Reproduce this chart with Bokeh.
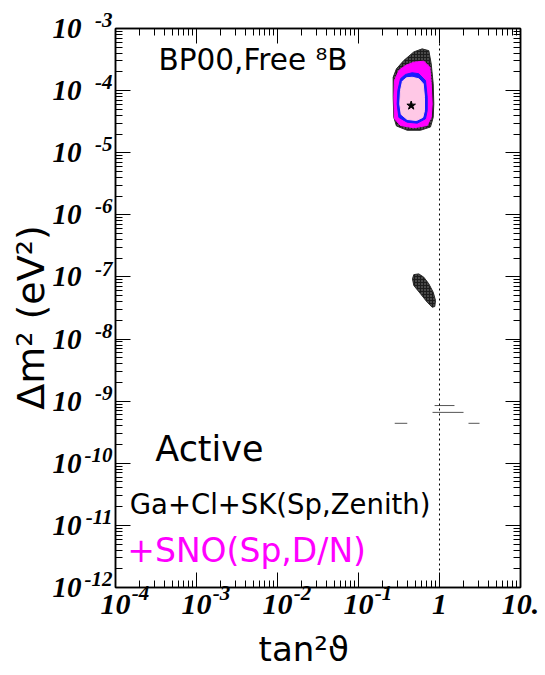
from bokeh.plotting import figure
from bokeh.models import LogAxis, FixedTicker, Span, Label, Range1d, LogScale
from bokeh.embed import file_html
from bokeh.resources import INLINE

# ---- axes / ticks ----
x_ticks = [1e-4, 1e-3, 1e-2, 1e-1, 1.0, 10.0]
x_tick_base = ["10", "10", "10", "10", "1", "10."]
x_tick_exp = ["-4", "-3", "-2", "-1"]
y_ticks = [1e-12, 1e-11, 1e-10, 1e-9, 1e-8, 1e-7, 1e-6, 1e-5, 1e-4, 1e-3]
y_tick_base = ["10"] * 10
y_tick_exp = ["-12", "-11", "-10", "-9", "-8", "-7", "-6", "-5", "-4", "-3"]

# ---- allowed regions (tan^2 theta, dm^2 in eV^2) ----
# LMA, outermost (black, speckled)
lma_out_x = [0.611, 0.738, 0.790, 0.836, 0.850, 0.836, 0.774, 0.583, 0.399, 0.294, 0.273, 0.268, 0.268, 0.294, 0.362, 0.482]
lma_out_y = [4.7e-4, 4.4e-4, 2.7e-4, 1.29e-4, 6.1e-5, 3.7e-5, 2.6e-5, 2.3e-5, 2.3e-5, 2.7e-5, 3.7e-5, 7.8e-5, 1.64e-4, 2.24e-4, 3.05e-4, 4.2e-4]
# LMA, magenta
lma_mag_x = [0.482, 0.640, 0.759, 0.790, 0.812, 0.790, 0.705, 0.482, 0.330, 0.278, 0.273, 0.278, 0.315, 0.380]
lma_mag_y = [2.87e-4, 2.98e-4, 2.38e-4, 1.29e-4, 6.1e-5, 3.7e-5, 2.74e-5, 2.52e-5, 2.74e-5, 3.52e-5, 7.8e-5, 1.45e-4, 2.11e-4, 2.54e-4]
# LMA, blue
lma_blu_x = [0.460, 0.555, 0.672, 0.705, 0.705, 0.672, 0.531, 0.399, 0.315, 0.300, 0.306, 0.330, 0.380]
lma_blu_y = [1.94e-4, 1.87e-4, 1.45e-4, 7.8e-5, 4.78e-5, 3.52e-5, 2.99e-5, 3.10e-5, 3.7e-5, 6.1e-5, 1.0e-4, 1.55e-4, 1.82e-4]
# LMA, pink (innermost)
lma_pnk_x = [0.460, 0.555, 0.629, 0.653, 0.653, 0.622, 0.520, 0.399, 0.337, 0.323, 0.330, 0.349, 0.392]
lma_pnk_y = [1.64e-4, 1.55e-4, 1.29e-4, 7.8e-5, 4.78e-5, 3.7e-5, 3.30e-5, 3.43e-5, 4.12e-5, 6.1e-5, 1.0e-4, 1.42e-4, 1.61e-4]
# LOW region (black, speckled)
low_x = [0.482, 0.555, 0.640, 0.738, 0.836, 0.893, 0.875, 0.812, 0.705, 0.583, 0.482, 0.464]
low_y = [1.09e-7, 1.12e-7, 9.9e-8, 7.74e-8, 5.68e-8, 4.17e-8, 3.34e-8, 3.25e-8, 3.92e-8, 5.35e-8, 7.27e-8, 9.3e-8]
# vacuum-like strips
strip_x0 = [0.87, 0.82, 0.28, 2.28]
strip_x1 = [1.53, 1.98, 0.40, 3.12]
strip_y = [8.5e-10, 6.6e-10, 4.4e-10, 4.4e-10]
# best fit point
best_x = [0.447]
best_y = [5.75e-5]

X_LO, X_HI = 1e-4, 10.0
Y_LO, Y_HI = 1e-12, 1e-3
FW, FH = 405, 559

x_minor = [m * d for d in x_ticks[:-1] for m in range(2, 10)]
y_minor = [m * d for d in y_ticks[:-1] for m in range(2, 10)]

p = figure(x_axis_type="log", y_axis_type="log",
           x_range=Range1d(X_LO, X_HI), y_range=Range1d(Y_LO, Y_HI),
           frame_width=FW, frame_height=FH,
           min_border_left=115, min_border_right=25,
           min_border_top=28, min_border_bottom=88,
           output_backend="svg", toolbar_location=None)
p.xgrid.visible = False
p.ygrid.visible = False
p.outline_line_color = "black"
p.outline_line_width = 1.5
p.background_fill_color = "white"
p.border_fill_color = "white"

# shifted x range, used only to place the exponent part of the x tick labels
def shifted(lo, hi, px, ppd):
    f = 10 ** (px / ppd)
    return Range1d(lo / f, hi / f)

PPD_X = FW / 5.0
p.extra_x_ranges = {"xexp": shifted(X_LO, X_HI, 25, PPD_X)}
p.extra_x_scales = {"xexp": LogScale()}

def style_axis(ax, ticks, minor):
    ax.ticker = FixedTicker(ticks=ticks, minor_ticks=minor)
    ax.major_tick_in = 15
    ax.major_tick_out = 0
    ax.minor_tick_in = 7
    ax.minor_tick_out = 0
    ax.axis_line_color = "black"
    ax.axis_line_width = 1.5
    ax.major_tick_line_width = 1
    ax.minor_tick_line_width = 1
    ax.major_label_text_font_size = "1px"
    ax.major_label_text_alpha = 0.0
    ax.major_label_standoff = 0

def label_axis(ax, ticks, labels, size, standoff):
    ax.ticker = FixedTicker(ticks=ticks, minor_ticks=[])
    ax.major_label_overrides = {t: l for t, l in zip(ticks, labels)}
    ax.axis_line_color = None
    ax.major_tick_line_color = None
    ax.minor_tick_line_color = None
    ax.major_tick_in = 0
    ax.major_tick_out = 0
    ax.minor_tick_in = 0
    ax.minor_tick_out = 0
    ax.major_label_text_font = "Liberation Serif"
    ax.major_label_text_font_style = "bold italic"
    ax.major_label_text_font_size = f"{size}px"
    ax.major_label_text_color = "black"
    ax.major_label_standoff = standoff

xa = p.xaxis[0]
ya = p.yaxis[0]
style_axis(xa, x_ticks, x_minor)
style_axis(ya, y_ticks, y_minor)

top = LogAxis()
style_axis(top, x_ticks, x_minor)
p.add_layout(top, "above")
right = LogAxis()
style_axis(right, y_ticks, y_minor)
p.add_layout(right, "right")

# bottom: "10" labels, then exponents pulled up beside them
x_base_ax = LogAxis()
label_axis(x_base_ax, x_ticks, x_tick_base, 30, 7)
p.add_layout(x_base_ax, "below")
x_exp_ax = LogAxis(x_range_name="xexp")
label_axis(x_exp_ax, x_ticks[:4], x_tick_exp, 21, -31)
p.add_layout(x_exp_ax, "below")

# left: exponents (inner, raised by a short second line), then "10" (outer)
y_exp_ax = LogAxis()
label_axis(y_exp_ax, y_ticks, [e + "\n\u2007" for e in y_tick_exp], 21, 3)
y_exp_ax.major_label_text_line_height = 0.7
p.add_layout(y_exp_ax, "left")
y_base_ax = LogAxis()
label_axis(y_base_ax, y_ticks, y_tick_base, 29, 0)
p.add_layout(y_base_ax, "left")

x_exp_ax.axis_label = "tan²ϑ\u2007\u2009"
x_exp_ax.axis_label_text_font = "DejaVu Sans"
x_exp_ax.axis_label_text_font_style = "normal"
x_exp_ax.axis_label_text_font_size = "34px"
x_exp_ax.axis_label_text_color = "black"
x_exp_ax.axis_label_standoff = 26

y_base_ax.axis_label = "Δm² (eV²)\u2002"
y_base_ax.axis_label_text_font = "DejaVu Sans"
y_base_ax.axis_label_text_font_style = "normal"
y_base_ax.axis_label_text_font_size = "38px"
y_base_ax.axis_label_text_color = "black"
y_base_ax.axis_label_standoff = -3

speck = dict(fill_color="#1c1c1c", line_color="#2a2a2a", line_width=1,
             hatch_pattern=".", hatch_color="#8a8a8a", hatch_scale=3, hatch_weight=0.6)
p.patch(lma_out_x, lma_out_y, **speck)
p.patch(low_x, low_y, **speck)
p.patch(lma_mag_x, lma_mag_y, fill_color="#ff00ff", line_color="#ff00ff", line_width=1)
p.patch(lma_blu_x, lma_blu_y, fill_color="#1a1aff", line_color="#1a1aff", line_width=1)
p.patch(lma_pnk_x, lma_pnk_y, fill_color="#ffc8e6", line_color="#ffc8e6", line_width=1)
p.segment(x0=strip_x0, y0=strip_y, x1=strip_x1, y1=strip_y, line_color="#555555", line_width=1)
p.scatter(best_x, best_y, marker="star", size=9, color="black")

p.add_layout(Span(location=1.0, dimension="height", line_color="black",
                  line_width=1, line_dash="2 3"))

CORR = 0.4  # empirical shift (em) so that the label's baseline sits on the anchor

def put(x, y, text, size, color="black"):
    p.add_layout(Label(x=x, y=y, text=text, text_font="DejaVu Sans",
                       text_font_size=f"{size}px", text_color=color,
                       text_baseline="alphabetic", text_align="left",
                       y_offset=CORR * size))

put(3.4e-4, 2.0e-4, "BP00,Free ⁸B", 29.5)
put(3.1e-4, 1.0e-10, "Active", 35)
put(1.5e-4, 1.45e-11, "Ga+Cl+SK(Sp,Zenith)", 27.5)
put(1.4e-4, 2.45e-12, "+SNO(Sp,D/N)", 33, color="#ff00ff")

open("out.html", "w").write(file_html(p, INLINE))
